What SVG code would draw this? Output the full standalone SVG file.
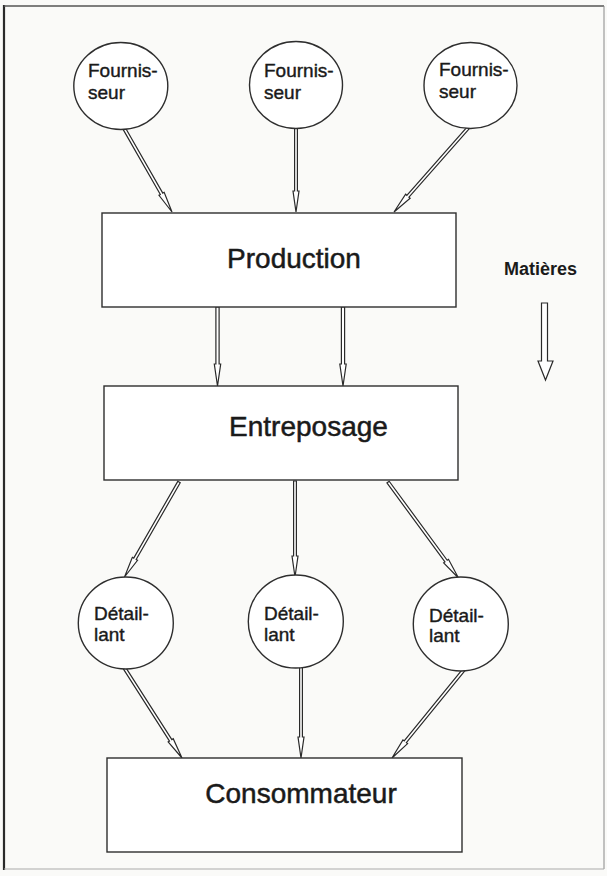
<svg xmlns="http://www.w3.org/2000/svg" width="607" height="876" viewBox="0 0 607 876">
  <style>
    .node { fill: #ffffff; stroke: #2e2e2e; stroke-width: 1.4; }
    .big { font-family: "Liberation Sans", Arial, Helvetica, sans-serif; font-size: 28px; fill: #1a1a1a; stroke: #1a1a1a; stroke-width: 0.5; }
    .small { font-family: "Liberation Sans", Arial, Helvetica, sans-serif; font-size: 19px; fill: #1a1a1a; stroke: #1a1a1a; stroke-width: 0.4; }
    .legend { font-family: "Liberation Sans", Arial, Helvetica, sans-serif; font-size: 18px; font-weight: bold; fill: #1a1a1a; }
    .arrow { fill: #ffffff; stroke: #2a2a2a; stroke-width: 1.2; stroke-linejoin: miter; }
  </style>

  <!-- page background and frame -->
  <rect x="0" y="0" width="607" height="876" fill="#fafaf8"/>
  <line x1="4" y1="5" x2="4" y2="870" stroke="#2a2a2a" stroke-width="2.2"/>
  <line x1="4" y1="6" x2="604" y2="6" stroke="#555" stroke-width="1.4"/>
  <line x1="604" y1="6" x2="604" y2="869" stroke="#888" stroke-width="1"/>
  <line x1="4" y1="869" x2="604" y2="869" stroke="#aaa" stroke-width="1"/>

  <!-- connectors: hollow double-line arrows, tip at the local origin pointing along +x -->
  <g id="connectors">
    <g transform="translate(172,212) rotate(60.2)"><path class="arrow" d="M-100,-1.4 H-21 V-3 L0,0 L-21,3 V1.4 H-100 Z"/></g>
    <g transform="translate(296,212) rotate(90)"><path class="arrow" d="M-86,-1.4 H-21 V-3 L0,0 L-21,3 V1.4 H-86 Z"/></g>
    <g transform="translate(394,212) rotate(131.4)"><path class="arrow" d="M-118,-1.4 H-21 V-3 L0,0 L-21,3 V1.4 H-118 Z"/></g>

    <g transform="translate(217.5,386) rotate(90)"><path class="arrow" d="M-79,-1.6 H-22 V-3.2 L0,0 L-22,3.2 V1.6 H-79 Z"/></g>
    <g transform="translate(343,386) rotate(90)"><path class="arrow" d="M-79,-1.6 H-22 V-3.2 L0,0 L-22,3.2 V1.6 H-79 Z"/></g>

    <g transform="translate(124.5,577) rotate(119.85)"><path class="arrow" d="M-109.5,-1.4 H-21 V-3 L0,0 L-21,3 V1.4 H-109.5 Z"/></g>
    <g transform="translate(295,577) rotate(90)"><path class="arrow" d="M-96,-1.4 H-21 V-3 L0,0 L-21,3 V1.4 H-96 Z"/></g>
    <g transform="translate(458.5,578) rotate(53.7)"><path class="arrow" d="M-119,-1.4 H-21 V-3 L0,0 L-21,3 V1.4 H-119 Z"/></g>

    <g transform="translate(182,758) rotate(57.4)"><path class="arrow" d="M-110,-1.4 H-21 V-3 L0,0 L-21,3 V1.4 H-110 Z"/></g>
    <g transform="translate(301,758) rotate(90)"><path class="arrow" d="M-95,-1.4 H-21 V-3 L0,0 L-21,3 V1.4 H-95 Z"/></g>
    <g transform="translate(392,758) rotate(129.2)"><path class="arrow" d="M-117,-1.4 H-21 V-3 L0,0 L-21,3 V1.4 H-117 Z"/></g>
  </g>

  <!-- suppliers -->
  <g id="fournisseur-1">
    <ellipse class="node" cx="120.8" cy="86" rx="47" ry="43.5"/>
    <text class="small" x="88" y="77">Fournis-</text>
    <text class="small" x="88" y="99">seur</text>
  </g>
  <g id="fournisseur-2">
    <ellipse class="node" cx="296" cy="85" rx="46.5" ry="43.5"/>
    <text class="small" x="264" y="77">Fournis-</text>
    <text class="small" x="264" y="99">seur</text>
  </g>
  <g id="fournisseur-3">
    <ellipse class="node" cx="470.5" cy="85.5" rx="46.5" ry="43"/>
    <text class="small" x="439" y="76">Fournis-</text>
    <text class="small" x="439" y="98">seur</text>
  </g>

  <!-- production -->
  <g id="production">
    <rect class="node" x="102" y="213" width="354" height="94"/>
    <text class="big" x="294" y="268" text-anchor="middle">Production</text>
  </g>

  <!-- warehousing -->
  <g id="entreposage">
    <rect class="node" x="104" y="386" width="354" height="94"/>
    <text class="big" x="308.5" y="436" text-anchor="middle">Entreposage</text>
  </g>

  <!-- retailers -->
  <g id="detaillant-1">
    <ellipse class="node" cx="125.8" cy="623" rx="47.5" ry="46"/>
    <text class="small" x="94" y="620">Détail-</text>
    <text class="small" x="94" y="641">lant</text>
  </g>
  <g id="detaillant-2">
    <ellipse class="node" cx="295.8" cy="621.5" rx="47.5" ry="46.5"/>
    <text class="small" x="264" y="620">Détail-</text>
    <text class="small" x="264" y="641">lant</text>
  </g>
  <g id="detaillant-3">
    <ellipse class="node" cx="460.8" cy="624" rx="47.5" ry="47"/>
    <text class="small" x="429" y="622">Détail-</text>
    <text class="small" x="429" y="642">lant</text>
  </g>

  <!-- consumer -->
  <g id="consommateur">
    <rect class="node" x="107" y="758" width="355" height="94"/>
    <text class="big" x="301" y="803" text-anchor="middle">Consommateur</text>
  </g>

  <!-- legend: direction of material flow -->
  <g id="matieres">
    <text class="legend" x="540.5" y="275" text-anchor="middle">Matières</text>
    <path class="arrow" d="M541.5,303 H547.5 V361 H553 L545.5,380 L538,361 H541.5 Z"/>
  </g>
</svg>
